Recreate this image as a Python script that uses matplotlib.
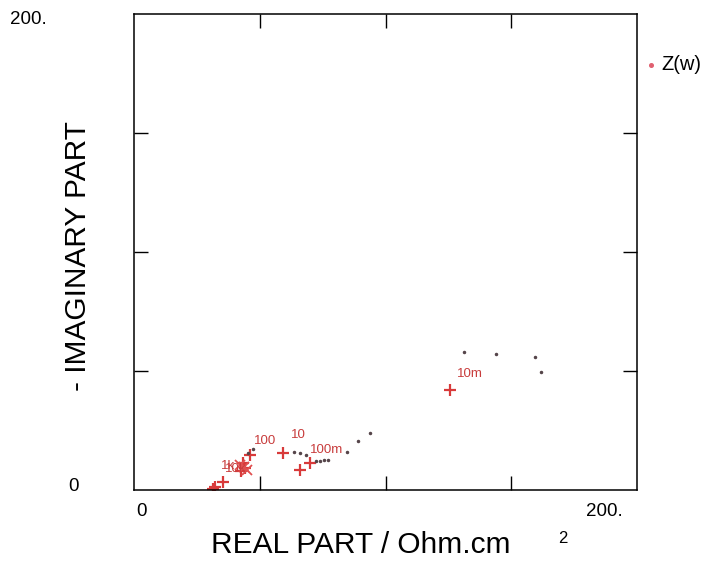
import matplotlib
matplotlib.use('Agg')
import matplotlib.pyplot as plt

plt.rcParams['font.family'] = ['Liberation Sans', 'DejaVu Sans']

# decade frequency points (red crosses)
cross_x = [125.6, 70.0, 66.0, 59.4, 46.1, 43.4, 44.1, 42.5, 35.4, 32.2, 31.6]
cross_y = [42.3, 11.3, 8.4, 15.8, 14.7, 11.3, 9.2, 8.0, 3.4, 1.3, 0.3]

# overlapping points in the high-frequency burst
burst_x = [43.6, 44.8, 42.2]
burst_y = [9.6, 8.4, 10.4]

# intermediate frequency points (small dots)
dot_x = [131.0, 143.8, 159.5, 161.7, 93.8, 89.1, 84.7, 77.0, 75.5, 74.0, 72.5,
         68.3, 66.0, 63.6, 47.4, 45.5]
dot_y = [57.9, 57.1, 55.8, 49.7, 23.9, 20.6, 16.1, 12.8, 12.6, 12.4, 12.2,
         15.0, 15.5, 16.0, 17.5, 15.8]

# frequency labels
freq_labels = ['10m', '100m', '10', '100', '1k', '10k']
label_x = [133.6, 76.5, 65.2, 52.1, 37.6, 40.4]
label_y = [48.7, 16.8, 23.1, 20.6, 10.2, 8.8]

fig = plt.figure(figsize=(7.08, 5.70), dpi=100)
ax = fig.add_axes([0.189, 0.140, 0.711, 0.835])

ax.plot(cross_x, cross_y, linestyle='none', marker='+', markersize=9,
        markeredgewidth=1.6, color='#d83a3a')
ax.plot(burst_x, burst_y, linestyle='none', marker='x', markersize=7,
        markeredgewidth=1.3, color='#e05050')
ax.plot(dot_x, dot_y, linestyle='none', marker='.', markersize=3,
        color='#55454a')
for lab, lx, ly in zip(freq_labels, label_x, label_y):
    ax.text(lx, ly, lab, color='#c83c3c', fontsize=9.5, ha='center', va='center')

ax.set_xlim(0, 200)
ax.set_ylim(0, 200)
ax.set_xticks([50, 100, 150])
ax.set_yticks([50, 100, 150])
ax.set_xticklabels([])
ax.set_yticklabels([])
ax.tick_params(direction='in', length=10, width=1, top=True, right=True)
for sp in ax.spines.values():
    sp.set_linewidth(1.1)

# end tick labels placed like the original
ax.text(0.016, -0.045, '0', transform=ax.transAxes, fontsize=13.5, ha='center', va='center')
ax.text(0.935, -0.045, '200.', transform=ax.transAxes, fontsize=13.5, ha='center', va='center')
ax.text(-0.209, 0.990, '200.', transform=ax.transAxes, fontsize=13.5, ha='center', va='center')
ax.text(-0.12, 0.008, '0', transform=ax.transAxes, fontsize=13.5, ha='center', va='center')

fig.text(0.11, 0.55, '- IMAGINARY PART', rotation=90, fontsize=21.5, ha='center', va='center')
fig.text(0.509, 0.044, 'REAL PART / Ohm.cm', fontsize=21.5, ha='center', va='center')
fig.text(0.795, 0.056, '2', fontsize=12, ha='center', va='center')

# legend
fig.lines.append(plt.Line2D([0.920], [0.886], transform=fig.transFigure, marker='o',
                            markersize=2.6, linestyle='none', color='#e06070'))
fig.text(0.962, 0.886, 'Z(w)', fontsize=14.5, ha='center', va='center')

fig.savefig('out.png', dpi=100)
